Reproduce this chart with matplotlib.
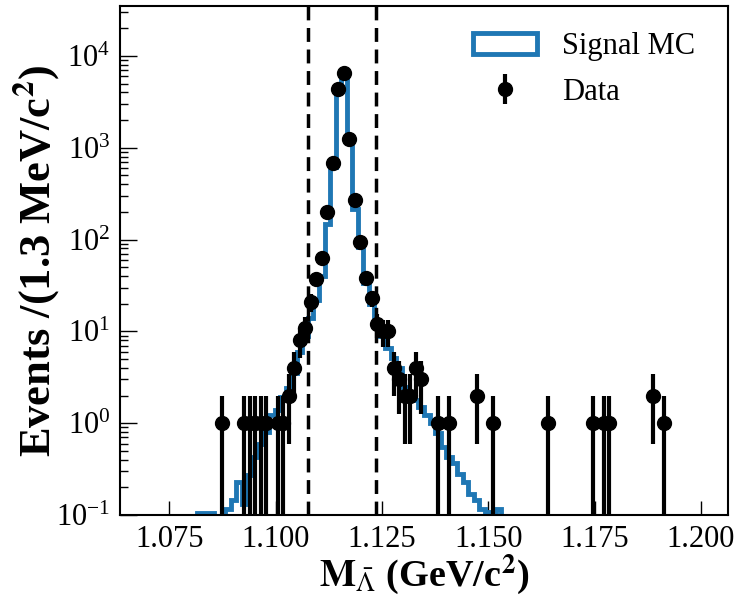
import numpy as np
import matplotlib.pyplot as plt
from matplotlib.ticker import NullLocator

plt.rcParams['font.family'] = ['Liberation Serif', 'DejaVu Serif']
plt.rcParams['mathtext.fontset'] = 'stix'

# binning: 1.3 MeV bins
x_lo = 1.0634
bin_w = 0.0013
n_bins = 110
edges = x_lo + bin_w * np.arange(n_bins + 1)
centers = 0.5 * (edges[1:] + edges[:-1])

# signal MC (normalised), bins 14..69
mc_first = 14
mc_counts = [0.105, 0.105, 0.105, 0, 0, 0.117, 0.144, 0.228, 0.133, 0.27,
             0.43, 0.6, 0.8, 1.22, 1.39, 1.94, 2.4, 3.5, 6, 9,
             14, 22, 40, 146, 620, 4300, 6600, 1150, 213, 82,
             34, 20, 12, 9, 6.6, 5.1, 4.0, 2.5, 1.93, 1.78,
             1.5, 1.22, 1.0, 0.78, 0.55, 0.43, 0.37, 0.28, 0.23, 0.17,
             0.144, 0.117, 0.107, 0.105, 0.115, 0]

# data: bin index and counts
data_bins = [18, 22, 23, 24, 25, 26, 28, 29, 30, 31, 32, 33, 34, 35, 36, 37,
             38, 39, 40, 41, 42, 43, 44, 45, 46, 47, 48, 49, 50, 51, 52, 53,
             54, 57, 59, 64, 67, 77, 85, 87, 88, 96, 98]
data_counts = [1, 1, 1, 1, 1, 1, 1, 1, 2, 4, 8, 11, 21, 37, 63, 200,
               680, 4400, 6600, 1250, 270, 95, 38, 23, 12, 10, 10, 4, 3, 2, 2, 4,
               3, 1, 1, 2, 1, 1, 1, 1, 1, 2, 1]

# signal window
win_lo, win_hi = 1.10768, 1.12368

mc = np.zeros(n_bins)
mc[mc_first:mc_first + len(mc_counts)] = mc_counts
d = np.array(data_counts, dtype=float)

fig, ax = plt.subplots(figsize=(7.5, 6), dpi=100)
fig.subplots_adjust(left=0.16, right=0.9707, bottom=0.1417, top=0.99)
ax.set_yscale('log')

ax.hist(centers, bins=edges, weights=mc, histtype='step', color='#1f77b4',
        lw=3.5, label='Signal MC')
ax.errorbar(centers[data_bins], d, yerr=np.sqrt(d), fmt='o', color='black',
            ms=10, elinewidth=3, capsize=0, label='Data')

ax.axvline(win_lo, color='black', ls='--', lw=2.5, dashes=(4, 2.2))
ax.axvline(win_hi, color='black', ls='--', lw=2.5, dashes=(4, 2.2))

ax.set_xlim(edges[0], edges[-1])
ax.set_ylim(0.1, 3.5e4)

ax.set_xticks([1.075, 1.100, 1.125, 1.150, 1.175, 1.200])
ax.set_xticklabels(['1.075', '1.100', '1.125', '1.150', '1.175', '1.200'])
ax.xaxis.set_minor_locator(NullLocator())
ax.tick_params(axis='x', which='major', direction='in', length=10, width=1,
               labelsize=22, pad=7, top=False)
ax.tick_params(axis='y', which='major', direction='in', length=12, width=1,
               labelsize=22, pad=7, right=False)
ax.tick_params(axis='y', which='minor', direction='in', length=6, width=1,
               right=False)
for s in ax.spines.values():
    s.set_linewidth(1.5)

ax.set_xlabel(r'$\mathbf{M}_{\bar{\Lambda}}$ (GeV/c$^{\mathbf{2}}$)',
              fontsize=27.5, fontweight='bold', labelpad=-1)
ax.set_ylabel(r'Events /(1.3 MeV/c$^{\mathbf{2}}$)', fontsize=32,
              fontweight='bold', labelpad=-4.5)

ax.legend(loc='upper right', bbox_to_anchor=(0.9885, 1.0), frameon=False,
          fontsize=22, handlelength=2.1, handletextpad=0.8,
          labelspacing=0.55, borderaxespad=0.45)

fig.savefig('out.png', dpi=100)
